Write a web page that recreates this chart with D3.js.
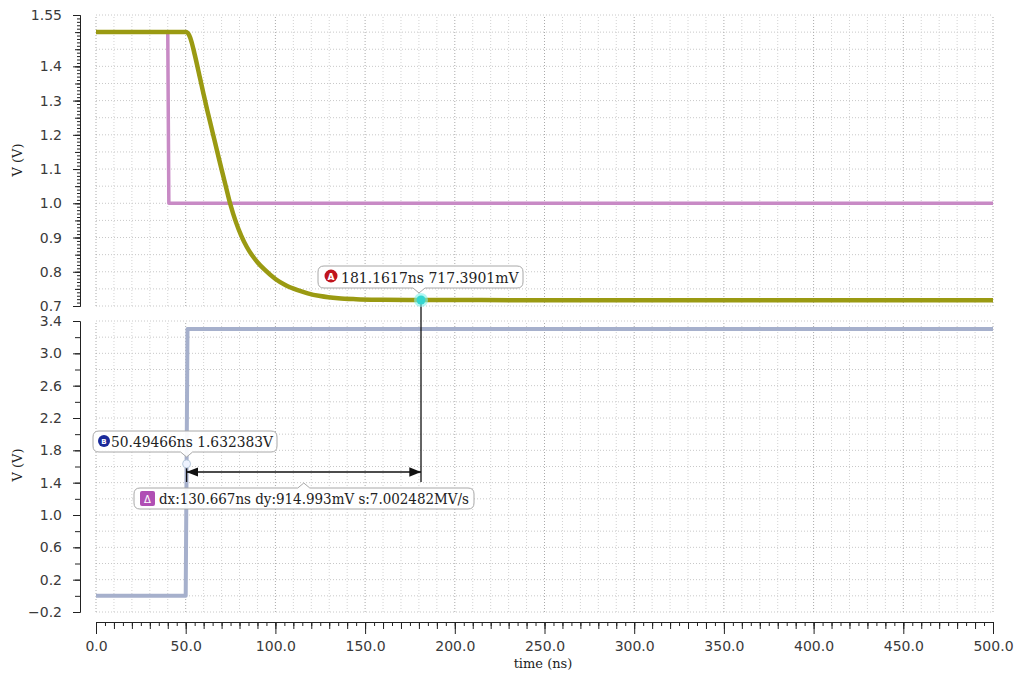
<!DOCTYPE html>
<html>
<head>
<meta charset="utf-8">
<script src="https://cdn.jsdelivr.net/npm/d3@7"></script>
<style>
  body { margin: 0; background: #fff; }
  svg { display: block; }
  .tick text { font-family: "DejaVu Sans", sans-serif; fill: #3a3a3a; }
  .lbl { font-family: "DejaVu Serif", serif; fill: #222; }
</style>
</head>
<body>
<svg id="chart" width="1018" height="676"></svg>
<script>
// ---- data ----
const pinkT = [0, 40, 40.6, 500];
const pinkV = [1.5, 1.5, 1.0, 1.0];

const oliveT = [0, 50, 51, 52, 53, 55, 58, 60, 62, 65, 68, 70, 72, 75, 78, 81, 84, 87, 90, 94, 100, 106, 112, 118, 125, 135, 145, 160, 181.1617, 250, 500];
const oliveV = [1.5, 1.5, 1.498, 1.49, 1.476, 1.435, 1.365, 1.318, 1.272, 1.207, 1.142, 1.099, 1.057, 0.995, 0.945, 0.905, 0.873, 0.848, 0.828, 0.806, 0.779, 0.760, 0.747, 0.737, 0.729, 0.7225, 0.7198, 0.7182, 0.7174, 0.7171, 0.717];

const blueT = [0, 50, 51, 500];
const blueV = [0, 0, 3.3, 3.3];

const markerA = { t: 181.1617, v: 0.7173901, text: "181.1617ns 717.3901mV" };
const markerB = { t: 50.49466, v: 1.632383, text: "50.49466ns 1.632383V" };
const deltaText = "dx:130.667ns dy:914.993mV s:7.002482MV/s";

const topLabels = [1.55, 1.4, 1.3, 1.2, 1.1, 1.0, 0.9, 0.8, 0.7];
const botLabels = [3.4, 3.0, 2.6, 2.2, 1.8, 1.4, 1.0, 0.6, 0.2, -0.2];
const xLabels = [0, 50, 100, 150, 200, 250, 300, 350, 400, 450, 500];

const svg = d3.select("#chart");

const x = d3.scaleLinear().domain([0, 500]).range([96, 993]);
const yTop = d3.scaleLinear().domain([0.7, 1.55]).range([306, 15]);
const yBot = d3.scaleLinear().domain([-0.2, 3.4]).range([612, 321]);

const r = n => Math.round(n * 1000) / 1000;
const seq = (a, b, s) => d3.range(Math.round((b - a) / s) + 1).map(i => r(a + i * s));

// ---- grid ----
function grid(y, hStep) {
  const [y0, y1] = y.domain();
  const g = svg.append("g");
  g.selectAll(".h").data(seq(y0, y1, hStep)).join("line")
    .attr("x1", x(0)).attr("x2", x(500))
    .attr("y1", d => y(d)).attr("y2", d => y(d))
    .attr("stroke", "#c8c8c8").attr("stroke-dasharray", "1,2");
  g.selectAll(".v").data(seq(0, 500, 10)).join("line")
    .attr("x1", d => x(d)).attr("x2", d => x(d))
    .attr("y1", y.range()[0]).attr("y2", y.range()[1])
    .attr("stroke", d => d % 50 === 0 ? "#aaa" : "#d2d2d2")
    .attr("stroke-dasharray", "1,2");
}
grid(yTop, 0.05);
grid(yBot, 0.2);

// ---- y axes ----
function yAxis(y, ticks) {
  ticks.forEach(t => {
    const g = svg.append("g").attr("transform", "translate(80,0)")
      .call(d3.axisLeft(y).tickValues(t.values).tickSize(t.size).tickSizeOuter(0)
        .tickFormat(t.fmt || ""));
    g.selectAll("line").attr("stroke", "#222");
    g.select(".domain").attr("stroke", "#222");
    g.selectAll("text").attr("font-size", "14px").attr("x", -18);
  });
}
yAxis(yTop, [
  { values: seq(0.7, 1.55, 0.01), size: 3 },
  { values: seq(0.7, 1.55, 0.05), size: 5 },
  { values: topLabels, size: 7, fmt: d => d === 1.55 ? "1.55" : d3.format(".1f")(d) }
]);
yAxis(yBot, [
  { values: seq(-0.2, 3.4, 0.2), size: 5 },
  { values: botLabels, size: 7, fmt: d3.format(".1f") }
]);

// ---- x axis ----
[{ values: seq(0, 500, 5), size: 4 },
 { values: seq(0, 500, 10), size: 7 },
 { values: xLabels, size: 12, fmt: d3.format(".1f") }].forEach(t => {
  const g = svg.append("g").attr("transform", "translate(0,622)")
    .call(d3.axisBottom(x).tickValues(t.values).tickSize(t.size).tickSizeOuter(0)
      .tickFormat(t.fmt || ""));
  g.selectAll("line").attr("stroke", "#222");
  g.select(".domain").attr("stroke", "#222");
  g.selectAll("text").attr("font-size", "14px").attr("y", 19);
});

// axis titles
svg.append("text").attr("class", "lbl").attr("x", 543).attr("y", 668)
  .attr("text-anchor", "middle").attr("font-size", "13px").text("time (ns)");
[160, 465].forEach(cy => {
  svg.append("text").attr("class", "lbl").attr("font-size", "13px")
    .attr("text-anchor", "middle")
    .attr("transform", `translate(22,${cy}) rotate(-90)`).text("V (V)");
});

// ---- traces ----
function trace(ts, vs, y, color, w, curve) {
  const pts = ts.map((t, i) => [t, vs[i]]);
  svg.append("path").datum(pts)
    .attr("fill", "none").attr("stroke", color).attr("stroke-width", w)
    .attr("stroke-linejoin", "round")
    .attr("d", d3.line().x(d => x(d[0])).y(d => y(d[1])).curve(curve || d3.curveLinear));
}
trace(pinkT, pinkV, yTop, "#c88ac5", 3.5);
trace(oliveT, oliveV, yTop, "#9a9a12", 4.5, d3.curveMonotoneX);
trace(blueT, blueV, yBot, "#a6b0cc", 4);

// ---- delta measurement ----
const ax = x(markerA.t), ay = yTop(markerA.v);
const bx = x(markerB.t), by = yBot(markerB.v);
const arrowY = 472;

const defs = svg.append("defs");
defs.append("marker").attr("id", "arr").attr("viewBox", "0 0 10 10")
  .attr("refX", 10).attr("refY", 5).attr("markerWidth", 9).attr("markerHeight", 9)
  .attr("orient", "auto-start-reverse")
  .append("path").attr("d", "M0,1 L10,5 L0,9 Z").attr("fill", "#111");

svg.append("line").attr("x1", ax).attr("x2", ax).attr("y1", ay).attr("y2", 482)
  .attr("stroke", "#111").attr("stroke-width", 1.3);
svg.append("line").attr("x1", bx).attr("x2", bx).attr("y1", by).attr("y2", 482)
  .attr("stroke", "#111").attr("stroke-width", 1.3);
svg.append("line").attr("x1", bx).attr("x2", ax).attr("y1", arrowY).attr("y2", arrowY)
  .attr("stroke", "#111").attr("stroke-width", 1.3)
  .attr("marker-start", "url(#arr)").attr("marker-end", "url(#arr)");

// callout box with a little pointer
function callout(x0, y0, w, h, px, down) {
  const rr = 6, pw = 6, ph = 5;
  let p;
  if (down) {
    p = `M${x0 + rr},${y0} H${x0 + w - rr} Q${x0 + w},${y0} ${x0 + w},${y0 + rr} V${y0 + h - rr}
      Q${x0 + w},${y0 + h} ${x0 + w - rr},${y0 + h} H${px + pw} L${px},${y0 + h + ph} L${px - pw},${y0 + h}
      H${x0 + rr} Q${x0},${y0 + h} ${x0},${y0 + h - rr} V${y0 + rr} Q${x0},${y0} ${x0 + rr},${y0} Z`;
  } else {
    p = `M${x0 + rr},${y0} H${px - pw} L${px},${y0 - ph} L${px + pw},${y0} H${x0 + w - rr} Q${x0 + w},${y0} ${x0 + w},${y0 + rr}
      V${y0 + h - rr} Q${x0 + w},${y0 + h} ${x0 + w - rr},${y0 + h} H${x0 + rr} Q${x0},${y0 + h} ${x0},${y0 + h - rr}
      V${y0 + rr} Q${x0},${y0} ${x0 + rr},${y0} Z`;
  }
  svg.append("path").attr("d", p).attr("fill", "rgba(255,255,255,0.92)")
    .attr("stroke", "#a8a8a8").attr("stroke-width", 1);
}

// marker B
svg.append("circle").attr("cx", bx).attr("cy", by).attr("r", 4)
  .attr("fill", "#eef3ff").attr("stroke", "#bcd").attr("stroke-width", 1);
callout(93, 431, 184, 21, bx, true);
svg.append("circle").attr("cx", 104).attr("cy", 441).attr("r", 6).attr("fill", "#1a2a9a");
svg.append("text").attr("x", 104).attr("y", 444).attr("text-anchor", "middle")
  .attr("font-family", "DejaVu Sans").attr("font-size", "7px").attr("font-weight", "bold")
  .attr("fill", "#fff").text("B");
svg.append("text").attr("class", "lbl").attr("x", 111).attr("y", 447)
  .attr("font-size", "14px").attr("textLength", 162).attr("lengthAdjust", "spacingAndGlyphs")
  .text(markerB.text);

// marker A
svg.append("circle").attr("cx", ax).attr("cy", ay).attr("r", 7).attr("fill", "#7ff3ee").attr("opacity", 0.6);
svg.append("circle").attr("cx", ax).attr("cy", ay).attr("r", 4.5).attr("fill", "#35d6d0");
callout(318, 266, 205, 22, ax - 2, true);
svg.append("circle").attr("cx", 331).attr("cy", 276).attr("r", 6.5).attr("fill", "#c0141c");
svg.append("text").attr("x", 331).attr("y", 279.5).attr("text-anchor", "middle")
  .attr("font-family", "DejaVu Sans").attr("font-size", "9px").attr("font-weight", "bold")
  .attr("fill", "#fff").text("A");
svg.append("text").attr("class", "lbl").attr("x", 341).attr("y", 283)
  .attr("font-size", "14px").text(markerA.text);

// delta box
callout(134, 488, 340, 21, (ax + bx) / 2, false);
svg.append("rect").attr("x", 140).attr("y", 491).attr("width", 15).attr("height", 15).attr("rx", 2)
  .attr("fill", "#b04fb4");
svg.append("text").attr("x", 147.5).attr("y", 503).attr("text-anchor", "middle")
  .attr("font-family", "DejaVu Sans").attr("font-size", "10px").attr("fill", "#fff").text("Δ");
svg.append("text").attr("class", "lbl").attr("x", 159).attr("y", 504)
  .attr("font-size", "14px").attr("textLength", 310).attr("lengthAdjust", "spacingAndGlyphs")
  .text(deltaText);
</script>
</body>
</html>
